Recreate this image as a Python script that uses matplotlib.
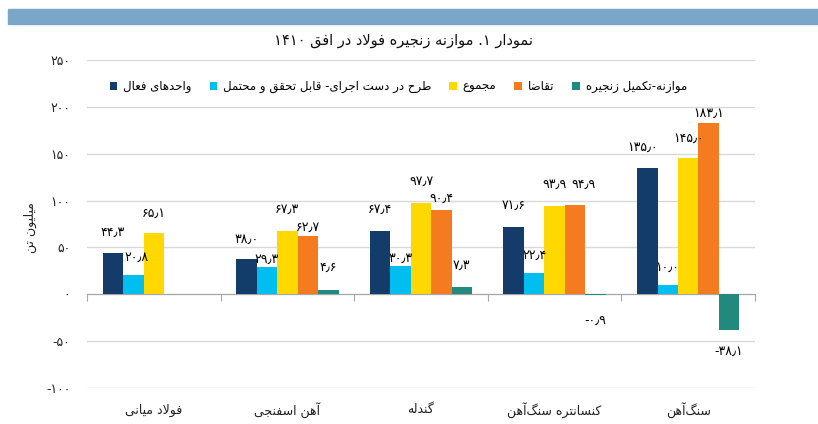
import re
import numpy as np
import matplotlib
matplotlib.use('Agg')
import matplotlib.pyplot as plt
from matplotlib.patches import Rectangle
from matplotlib.ticker import FuncFormatter

plt.rcParams['font.family'] = ['DejaVu Sans']

title = 'نمودار ۱. موازنه زنجیره فولاد در افق ۱۴۱۰'
ylabel = 'میلیون تن'
categories = ['فولاد میانی', 'آهن اسفنجی', 'گندله', 'کنسانتره سنگ\u200cآهن', 'سنگ\u200cآهن']
series_names = ['واحدهای فعال', 'طرح در دست اجرای- قابل تحقق و محتمل', 'مجموع', 'تقاضا', 'موازنه-تکمیل زنجیره']
active = [44.3, 38.0, 67.4, 71.6, 135.0]
planned = [20.8, 29.3, 30.3, 22.4, 10.0]
total = [65.1, 67.3, 97.7, 93.9, 145.0]
demand = [np.nan, 62.7, 90.4, 94.9, 183.1]
balance = [np.nan, 4.6, 7.3, -0.9, -38.1]
colors = ['#133c6b', '#00bff0', '#ffd800', '#f47b20', '#22897e']

# how far each value label sits off its bar end, in points (excel moved some to avoid overlaps)
label_lift = [
    [10, 9, 11, 11, 10],
    [8, 1, 1, 8, 8],
    [10, 11, 11, 11, 10],
    [None, 1, 3, 10, 2],
    [None, 11, 11, 14, 11],
]
# sideways nudges for a few labels, in points
label_shift = {(3, 3): 6, (0, 4): -3, (1, 0): 2}

# --- minimal arabic/persian shaping, matplotlib has no text layout for it ---
FORMS = {
    'ا': (0xFE8D, 0xFE8E), 'آ': (0xFE81, 0xFE82), 'د': (0xFEA9, 0xFEAA),
    'ذ': (0xFEAB, 0xFEAC), 'ر': (0xFEAD, 0xFEAE), 'ز': (0xFEAF, 0xFEB0),
    'و': (0xFEED, 0xFEEE), 'ژ': (0xFB8A, 0xFB8B),
    'ب': (0xFE8F,), 'ت': (0xFE95,), 'ث': (0xFE99,), 'ج': (0xFE9D,), 'ح': (0xFEA1,),
    'خ': (0xFEA5,), 'س': (0xFEB1,), 'ش': (0xFEB5,), 'ص': (0xFEB9,), 'ض': (0xFEBD,),
    'ط': (0xFEC1,), 'ظ': (0xFEC5,), 'ع': (0xFEC9,), 'غ': (0xFECD,), 'ف': (0xFED1,),
    'ق': (0xFED5,), 'ک': (0xFB8E,), 'ل': (0xFEDD,), 'م': (0xFEE1,), 'ن': (0xFEE5,),
    'ه': (0xFEE9,), 'ی': (0xFBFC,), 'پ': (0xFB56,), 'چ': (0xFB7A,), 'گ': (0xFB92,),
    'ي': (0xFEF1,),
}
LAM_ALEF = {'ا': (0xFEFB, 0xFEFC), 'آ': (0xFEF5, 0xFEF6)}


def dual(c):
    return c in FORMS and len(FORMS[c]) == 1


def shape(text):
    out = []
    i = 0
    n = len(text)
    while i < n:
        c = text[i]
        prev = text[i - 1] if i > 0 else ''
        joins_prev = dual(prev)
        if c == 'ل' and i + 1 < n and text[i + 1] in LAM_ALEF:
            iso, fin = LAM_ALEF[text[i + 1]]
            out.append(chr(fin if joins_prev else iso))
            i += 2
            continue
        if c not in FORMS:
            if c != '\u200c':
                out.append(c)
            i += 1
            continue
        nxt = text[i + 1] if i + 1 < n else ''
        joins_next = dual(c) and nxt in FORMS
        f = FORMS[c]
        if len(f) == 2:
            out.append(chr(f[1] if joins_prev else f[0]))
        else:
            base = f[0]
            if joins_prev and joins_next:
                out.append(chr(base + 3))
            elif joins_prev:
                out.append(chr(base + 1))
            elif joins_next:
                out.append(chr(base + 2))
            else:
                out.append(chr(base))
        i += 1
    return ''.join(out)


re_number = re.compile(r'([۰-۹0-9]+(?:[٫,.][۰-۹0-9]+)*)')


def rtl(text):
    toks = re_number.split(shape(text))
    return ''.join(t if re_number.fullmatch(t) else t[::-1] for t in reversed(toks))


def fa_num(v, fmt='%.1f'):
    s = fmt % v
    return s.translate(str.maketrans('0123456789.', '۰۱۲۳۴۵۶۷۸۹٫'))


fig = plt.figure(figsize=(8.18, 4.24), dpi=100)
ax = fig.add_axes([87 / 818, 1 - 388 / 424, 668 / 818, 328 / 424])

fig.patches.append(Rectangle((8 / 818, 1 - 24 / 424), 810 / 818, 15 / 424,
                             transform=fig.transFigure, color='#7aa6c8', zorder=0))

data = [active, planned, total, demand, balance]
x = np.arange(len(categories))
w = 0.153
for j, (vals, name, col) in enumerate(zip(data, series_names, colors)):
    pos = x + (j - 2) * w
    ax.bar(pos, vals, w, color=col, label=rtl(name), zorder=3)
    for k, v in enumerate(vals):
        if np.isnan(v):
            continue
        lift = label_lift[j][k]
        dx = label_shift.get((j, k), 0)
        ax.annotate(fa_num(v), (pos[k], v), xytext=(dx, lift if v >= 0 else -lift),
                    textcoords='offset points', ha='center',
                    va='bottom' if v >= 0 else 'top', fontsize=9, color='#000000', zorder=4)

ax.set_xlim(-0.5, 4.5)
ax.set_ylim(-100, 250)
ax.set_yticks(np.arange(-100, 251, 50))
ax.yaxis.set_major_formatter(FuncFormatter(lambda v, p: fa_num(v, '%d')))
ax.tick_params(axis='y', length=0, pad=12, labelsize=9, labelcolor='#222222')
ax.yaxis.grid(True, color='#d9d9d9', lw=1)
ax.set_axisbelow(True)
for s in ['top', 'right', 'left']:
    ax.spines[s].set_visible(False)
ax.spines['bottom'].set_position(('data', 0))
ax.spines['bottom'].set_color('#a6a6a6')
ax.set_xticks(np.arange(-0.5, 5, 1))
ax.set_xticklabels([])
ax.tick_params(axis='x', length=5, color='#a6a6a6', direction='out')

for k, c in enumerate(categories):
    ax.text(k, -0.067, rtl(c), transform=ax.get_xaxis_transform(),
            ha='center', va='center', fontsize=9, color='#222222')

fig.text(30 / 818, 1 - 228 / 424, rtl(ylabel), rotation=90, ha='center', va='center',
         fontsize=9, color='#222222')
fig.text(403 / 818, 1 - 40 / 424, rtl(title), ha='center', va='center',
         fontsize=10.5, color='#111111')

ax.legend(loc='center', bbox_to_anchor=(0.466, 0.918), ncol=5, frameon=False,
          fontsize=8.5, handlelength=0.65, handleheight=0.65, handletextpad=0.5,
          columnspacing=1.5)

fig.savefig('out.png', dpi=100)
